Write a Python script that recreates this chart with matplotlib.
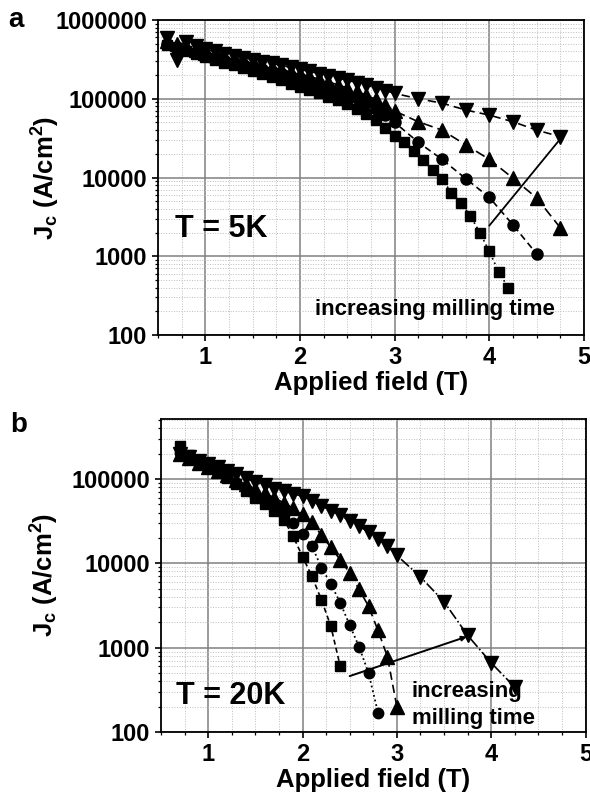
import matplotlib
matplotlib.use('Agg')
import matplotlib.pyplot as plt
from matplotlib.ticker import FixedLocator, FuncFormatter, LogLocator, NullFormatter

plt.rcParams['font.family'] = ['Liberation Sans', 'DejaVu Sans']
plt.rcParams['font.weight'] = 'bold'
plt.rcParams['mathtext.fontset'] = 'custom'
plt.rcParams['mathtext.rm'] = 'Liberation Sans:bold'
plt.rcParams['mathtext.it'] = 'Liberation Sans:bold'
plt.rcParams['mathtext.bf'] = 'Liberation Sans:bold'
plt.rcParams['mathtext.default'] = 'rm'

# ---- panel a, T = 5K ----
a_sq_x = [0.6, 0.7, 0.8, 0.9, 1.0, 1.1, 1.2, 1.3, 1.4, 1.5, 1.6, 1.7, 1.8, 1.9, 2.0,
          2.1, 2.2, 2.3, 2.4, 2.5, 2.6, 2.7, 2.8, 2.9, 3.0, 3.1, 3.2, 3.3, 3.4, 3.5,
          3.6, 3.7, 3.8, 3.9, 4.0, 4.1, 4.2]
a_sq_y = [480000, 440000, 400000, 365000, 335000, 310000, 288000, 268000, 248000, 228000,
          208000, 190000, 172000, 155000, 140000, 128000, 117000, 106000, 95000, 85000,
          75000, 64000, 53000, 43000, 34000, 28000, 21500, 16600, 12600, 9600,
          6400, 4800, 3250, 2000, 1150, 630, 400]

a_ci_x = [0.6, 0.7, 0.8, 0.9, 1.0, 1.1, 1.2, 1.3, 1.4, 1.5, 1.6, 1.7, 1.8, 1.9, 2.0,
          2.1, 2.2, 2.3, 2.4, 2.5, 2.6, 2.7, 2.8, 2.9, 3.0, 3.25, 3.5, 3.75, 4.0, 4.25, 4.5]
a_ci_y = [500000, 460000, 420000, 388000, 360000, 336000, 314000, 294000, 275000, 258000,
          242000, 226000, 211000, 196000, 182000, 168000, 154000, 140000, 127000, 114000,
          101000, 88000, 75000, 62000, 50000, 28000, 17000, 9700, 5600, 2500, 1070]

a_up_x = [0.6, 0.7, 0.8, 0.9, 1.0, 1.1, 1.2, 1.3, 1.4, 1.5, 1.6, 1.7, 1.8, 1.9, 2.0,
          2.1, 2.2, 2.3, 2.4, 2.5, 2.6, 2.7, 2.8, 2.9, 3.0, 3.25, 3.5, 3.75, 4.0, 4.25,
          4.5, 4.75]
a_up_y = [540000, 500000, 455000, 415000, 385000, 358000, 335000, 315000, 297000, 280000,
          264000, 249000, 234000, 220000, 206000, 192000, 178000, 164000, 150000, 137000,
          124000, 111000, 98000, 84000, 70000, 51000, 40000, 26000, 17000, 9800,
          5500, 2300]

a_dn_x = [0.6, 0.7, 0.8, 0.9, 1.0, 1.1, 1.2, 1.3, 1.4, 1.5, 1.6, 1.7, 1.8, 1.9, 2.0,
          2.1, 2.2, 2.3, 2.4, 2.5, 2.6, 2.7, 2.8, 2.9, 3.0, 3.25, 3.5, 3.75, 4.0, 4.25,
          4.5, 4.75]
a_dn_y = [590000, 310000, 530000, 470000, 425000, 398000, 374000, 352000, 332000, 314000,
          297000, 281000, 265000, 250000, 236000, 222000, 209000, 196000, 184000, 172000,
          160000, 149000, 138000, 127000, 117000, 100000, 88000, 72000, 62000, 51000,
          40000, 33000]

# ---- panel b, T = 20K ----
b_sq_x = [0.7, 0.8, 0.9, 1.0, 1.1, 1.2, 1.3, 1.4, 1.5, 1.6, 1.7, 1.8, 1.9, 2.0, 2.1,
          2.2, 2.3, 2.4]
b_sq_y = [245000, 190000, 165000, 140000, 120000, 103000, 88000, 72000, 60000, 50000,
          42000, 33000, 21000, 12000, 7000, 3700, 1800, 600]

b_ci_x = [0.7, 0.8, 0.9, 1.0, 1.1, 1.2, 1.3, 1.4, 1.5, 1.6, 1.7, 1.8, 1.9, 2.0, 2.1,
          2.2, 2.3, 2.4, 2.5, 2.6, 2.7, 2.8]
b_ci_y = [205000, 175000, 152000, 135000, 120000, 104000, 90000, 77000, 66000, 56000,
          47000, 38000, 30000, 22000, 16000, 8900, 5700, 3400, 1850, 1020, 500, 170]

b_up_x = [0.7, 0.8, 0.9, 1.0, 1.1, 1.2, 1.3, 1.4, 1.5, 1.6, 1.7, 1.8, 1.9, 2.0, 2.1,
          2.2, 2.3, 2.4, 2.5, 2.6, 2.7, 2.8, 2.9, 3.0]
b_up_y = [200000, 175000, 155000, 138000, 124000, 110000, 97000, 86000, 77000, 68000,
          60000, 52000, 45000, 38000, 31000, 21500, 15500, 11000, 7700, 4900, 3100, 1600,
          780, 200]

b_dn_x = [0.7, 0.8, 0.9, 1.0, 1.1, 1.2, 1.3, 1.4, 1.5, 1.6, 1.7, 1.8, 1.9, 2.0, 2.1,
          2.2, 2.3, 2.4, 2.5, 2.6, 2.7, 2.8, 2.9, 3.0, 3.25, 3.5, 3.75, 4.0, 4.25]
b_dn_y = [195000, 180000, 165000, 150000, 138000, 125000, 113000, 102000, 92000, 84000,
          77000, 71000, 67000, 62000, 55000, 48000, 42000, 37000, 32000, 27500, 23500,
          19500, 16000, 12400, 6900, 3500, 1400, 660, 340]

y_ticks_a = [100, 1000, 10000, 100000, 1000000]
y_ticks_b = [100, 1000, 10000, 100000]
x_ticks = [1, 2, 3, 4, 5]
x_minor = [0.5, 0.75, 1.25, 1.5, 1.75, 2.25, 2.5, 2.75, 3.25, 3.5, 3.75, 4.25, 4.5, 4.75]

fig = plt.figure(figsize=(5.9, 7.96), dpi=100)
ax_a = fig.add_axes([0.2678, 0.5791, 0.7220, 0.3958])
ax_b = fig.add_axes([0.2729, 0.0804, 0.7195, 0.3938])


def style_axes(ax, yticks, ytop):
    ax.set_yscale('log')
    ax.set_xlim(0.5, 5)
    ax.set_ylim(100, ytop)
    ax.xaxis.set_major_locator(FixedLocator(x_ticks))
    ax.xaxis.set_minor_locator(FixedLocator(x_minor))
    ax.yaxis.set_major_locator(FixedLocator(yticks))
    ax.yaxis.set_minor_locator(LogLocator(base=10, subs=range(2, 10)))
    ax.yaxis.set_major_formatter(FuncFormatter(lambda v, p: '%d' % int(round(v))))
    ax.yaxis.set_minor_formatter(NullFormatter())
    ax.xaxis.set_major_formatter(FuncFormatter(lambda v, p: '%d' % int(round(v))))
    ax.grid(True, which='major', color='#808080', lw=1.1, ls='-', zorder=0)
    ax.grid(True, which='minor', color='#bcbcbc', lw=0.7, ls=':', zorder=0)
    ax.set_axisbelow(True)
    ax.tick_params(axis='both', which='major', direction='out', length=4, width=1.2,
                   labelsize=17, pad=4)
    ax.tick_params(axis='both', which='minor', direction='out', length=2.2, width=0.9)
    for lab in ax.get_xticklabels() + ax.get_yticklabels():
        lab.set_fontweight('bold')
    for s in ax.spines.values():
        s.set_linewidth(1.3)
        s.set_color('black')
    ax.set_xlabel('Applied field (T)', fontsize=18.5, fontweight='bold', labelpad=1)
    ax.set_ylabel('J$_{c}$ (A/cm$^{2}$)', fontsize=18.5, fontweight='bold')


style_axes(ax_a, y_ticks_a, 1000000)
ax_a.yaxis.set_label_coords(-0.225, 0.5)
ax_a.plot(a_dn_x, a_dn_y, color='black', ls=(0, (5, 3)), lw=1.2, marker='v', ms=10.5, zorder=3)
ax_a.plot(a_up_x, a_up_y, color='black', ls=(0, (6, 3)), lw=1.2, marker='^', ms=10.5, zorder=3)
ax_a.plot(a_ci_x, a_ci_y, color='black', ls=(0, (4, 2.5)), lw=1.2, marker='o', ms=8, zorder=3)
ax_a.plot(a_sq_x, a_sq_y, color='black', ls=(0, (1, 2)), lw=1.2, marker='s', ms=7.5, zorder=3)
ax_a.annotate('', xy=(4.76, 32000), xytext=(4.0, 2450),
              arrowprops=dict(arrowstyle='-', color='black', lw=1.3,
                              shrinkA=0, shrinkB=0), zorder=4)
ax_a.text(1.17, 2200, 'T = 5K', fontsize=22, fontweight='bold', ha='center', va='center')
ax_a.text(2.16, 178, 'increasing milling time', fontsize=16, fontweight='bold',
          ha='left', va='baseline', zorder=5)

style_axes(ax_b, y_ticks_b, 520000)
ax_b.yaxis.set_label_coords(-0.235, 0.5)
ax_b.plot(b_dn_x, b_dn_y, color='black', ls='-.', lw=1.2, marker='v', ms=9.5, zorder=3)
ax_b.plot(b_up_x, b_up_y, color='black', ls=(0, (5, 3)), lw=1.2, marker='^', ms=9.5, zorder=3)
ax_b.plot(b_ci_x, b_ci_y, color='black', ls=':', lw=1.3, marker='o', ms=7.5, zorder=3)
ax_b.plot(b_sq_x, b_sq_y, color='black', ls=(0, (3, 2)), lw=1.2, marker='s', ms=7, zorder=3)
ax_b.annotate('', xy=(3.74, 1350), xytext=(2.5, 460),
              arrowprops=dict(arrowstyle='-|>', color='black', lw=1.4,
                              mutation_scale=7, shrinkA=0, shrinkB=0), zorder=4)
ax_b.text(1.24, 265, 'T = 20K', fontsize=22, fontweight='bold', ha='center', va='center')
ax_b.text(3.16, 262, 'increasing', fontsize=16, fontweight='bold', ha='left', va='baseline',
          zorder=5)
ax_b.text(3.16, 123, 'milling time', fontsize=16, fontweight='bold', ha='left', va='baseline',
          zorder=5)

fig.text(16 / 590, 1 - 20 / 796, 'a', fontsize=20, fontweight='bold', ha='center', va='center')
fig.text(19 / 590, 1 - 425 / 796, 'b', fontsize=20, fontweight='bold', ha='center', va='center')

fig.savefig('out.png', dpi=100)
